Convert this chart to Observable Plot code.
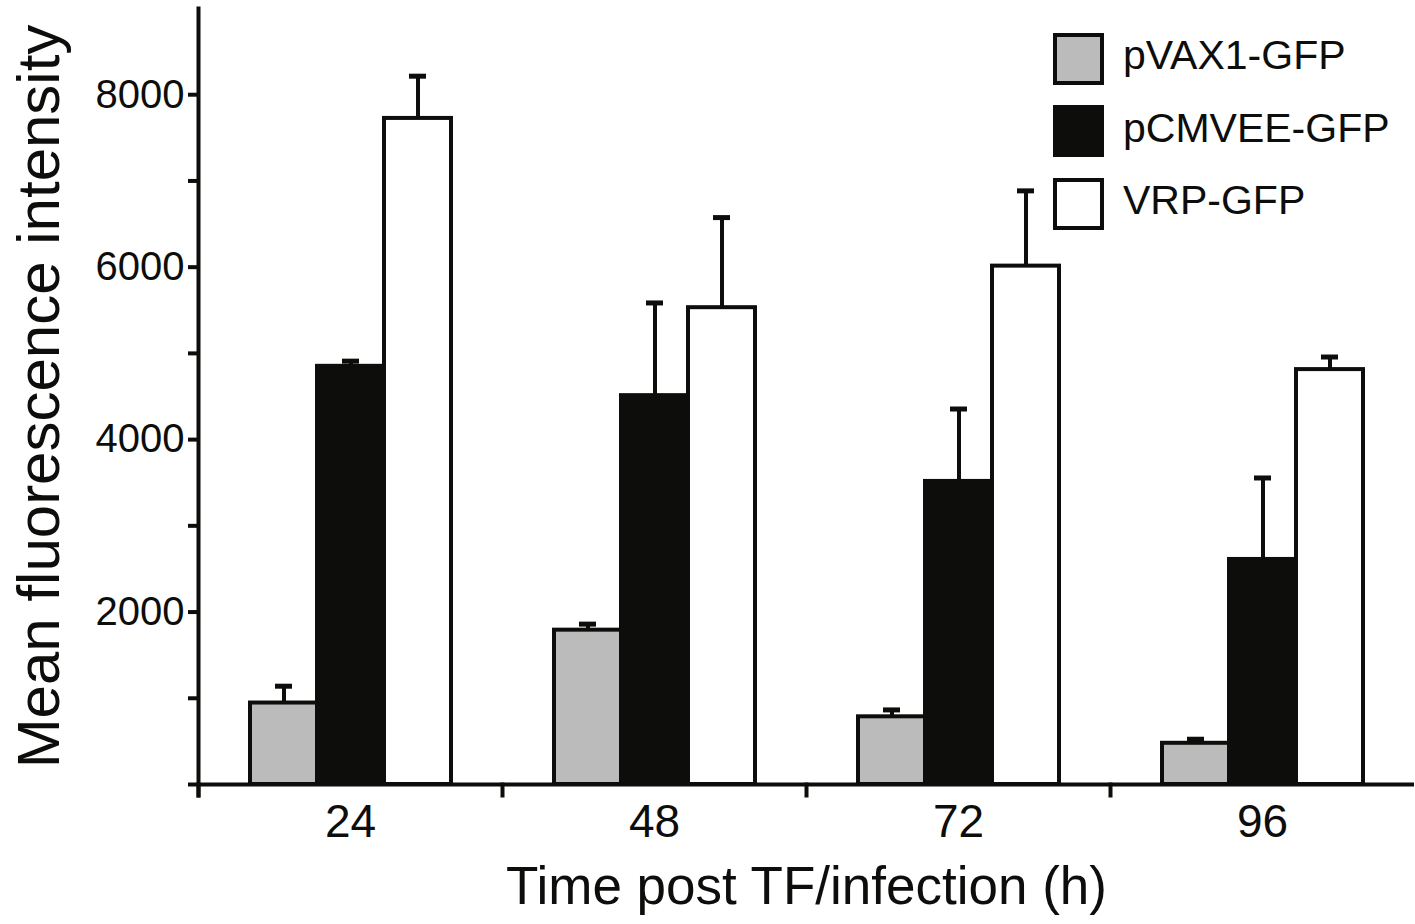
<!DOCTYPE html>
<html>
<head>
<meta charset="utf-8">
<script src="https://cdn.jsdelivr.net/npm/d3@7"></script>
<script src="https://cdn.jsdelivr.net/npm/@observablehq/plot@0.6"></script>
<style>
  html, body { margin: 0; padding: 0; background: #ffffff; }
  #wrap { position: relative; width: 1415px; height: 924px; font-family: "Liberation Sans", Arial, sans-serif; }
  .leg-row { position: absolute; left: 1053px; height: 53px; display: flex; align-items: center; }
  .leg-sw { width: 43px; height: 44px; border: 4.5px solid #0d0d0b; box-sizing: content-box; }
  .leg-tx { margin-left: 19px; font-size: 41px; color: #0d0d0b; line-height: 1; position: relative; top: -3px; }
</style>
</head>
<body>
<div id="wrap"></div>
<script>
const times = ["24", "48", "72", "96"];
const series = ["pVAX1-GFP", "pCMVEE-GFP", "VRP-GFP"];
const fills = ["#bbbbbb", "#0d0d0b", "#ffffff"];
const meanPVAX = [945, 1790, 785, 478];
const meanPCMVEE = [4850, 4510, 3515, 2610];
const meanVRP = [7725, 5530, 6012, 4812];
const errPVAX = [195, 70, 80, 47];
const errPCMVEE = [60, 1075, 840, 945];
const errVRP = [490, 1045, 873, 146];
const yTicks = [0, 1000, 2000, 3000, 4000, 5000, 6000, 7000, 8000];

const means = [meanPVAX, meanPCMVEE, meanVRP];
const errs = [errPVAX, errPCMVEE, errVRP];
const data = [];
times.forEach((t, i) => series.forEach((s, j) => {
  data.push({time: t, series: s, value: means[j][i], upper: means[j][i] + errs[j][i]});
}));

const W = 1415, H = 924, mT = 8, mB = 140, mL = 196, mR = 0;
const ink = "#0d0d0b";

const chart = Plot.plot({
  width: W, height: H,
  marginTop: mT, marginBottom: mB, marginLeft: mL, marginRight: mR,
  style: {fontFamily: '"Liberation Sans", Arial, sans-serif', color: ink, background: "#ffffff"},
  fx: {domain: times, paddingInner: 0, paddingOuter: 0},
  x: {domain: series, paddingInner: 0, paddingOuter: 0.743, axis: null},
  y: {domain: [0, 9000]},
  color: {domain: series, range: fills},
  marks: [
    Plot.ruleX(data, {fx: "time", x: "series", y1: "value", y2: "upper", stroke: ink, strokeWidth: 4}),
    Plot.tickY(data, {fx: "time", x: "series", y: "upper", stroke: ink, strokeWidth: 5, insetLeft: 25, insetRight: 25}),
    Plot.barY(data, {fx: "time", x: "series", y: "value", fill: "series", stroke: ink, strokeWidth: 4}),
    Plot.ruleY([0], {stroke: ink, strokeWidth: 4}),
    Plot.frame({anchor: "left", facetAnchor: "left", stroke: ink, strokeWidth: 4, insetBottom: -11}),
    Plot.frame({anchor: "left", stroke: ink, strokeWidth: 4, insetTop: H - mT - mB, insetBottom: -11}),
    Plot.axisY({ticks: yTicks, tickSize: 10, tickPadding: 4, fontSize: 40, strokeWidth: 4, stroke: ink,
      tickFormat: d => (d > 0 && d % 2000 === 0) ? String(d) : "", label: null}),
    Plot.axisY({ticks: [], tickSize: 0, fontSize: 60, label: "Mean fluorescence intensity",
      labelAnchor: "center", labelOffset: 182, labelArrow: "none"}),
    Plot.axisFx({anchor: "bottom", tickSize: 0, tickPadding: 20, fontSize: 46, label: null}),
    Plot.axisFx({anchor: "bottom", tickSize: 0, fontSize: 53, tickFormat: () => "", dx: 9,
      label: "Time post TF/infection (h)", labelAnchor: "center", labelOffset: 119, labelArrow: "none"})
  ]
});

const wrap = document.getElementById("wrap");
wrap.appendChild(chart);

series.forEach((s, i) => {
  const row = document.createElement("div");
  row.className = "leg-row";
  row.style.top = (32 + i * 72.5) + "px";
  const sw = document.createElement("div");
  sw.className = "leg-sw";
  sw.style.background = fills[i];
  const tx = document.createElement("div");
  tx.className = "leg-tx";
  tx.textContent = s;
  row.appendChild(sw);
  row.appendChild(tx);
  wrap.appendChild(row);
});
</script>
</body>
</html>
